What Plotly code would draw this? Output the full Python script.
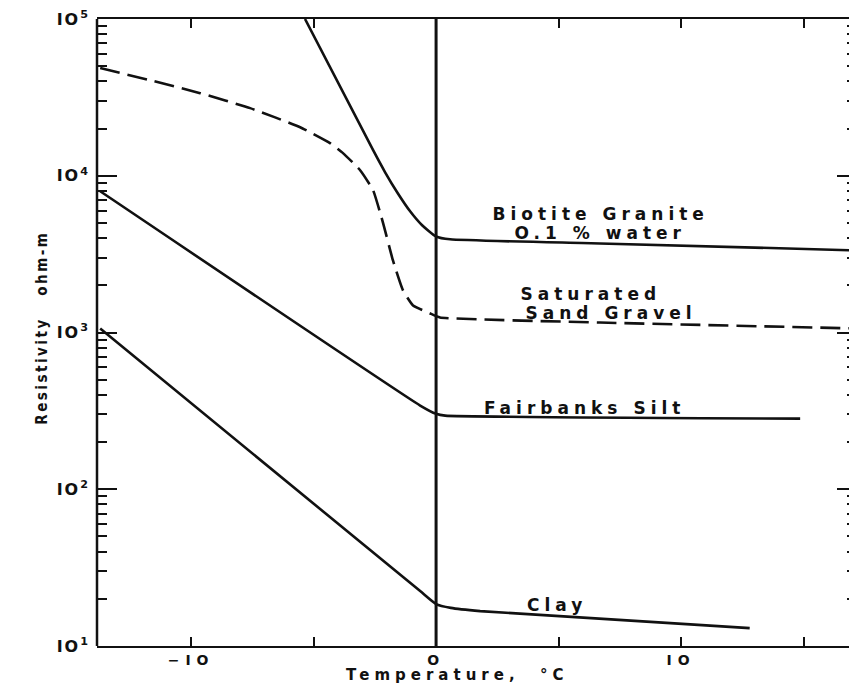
import plotly.graph_objects as go

# ---- data ----
granite_T = [-5.35, -2.57, -2.08, -1.59, -1.06, -0.57, 0.0, 0.57, 6.69, 17.18]
granite_R = [100000, 14550, 10520, 7850, 5930, 4830, 4100, 3930, 3700, 3340]

sand_T = [-13.71, -11.67, -9.63, -7.59, -5.55, -4.33, -3.80, -3.10, -2.57,
          -2.16, -1.76, -1.35, -0.94, -0.24, 0.16, 6.69, 17.18]
sand_R = [48650, 40700, 33650, 27000, 20400, 16140, 13940, 10850, 8080,
          4970, 2880, 1855, 1488, 1322, 1247, 1158, 1061]

silt_T = [-13.71, -0.65, 0.0, 0.37, 14.86]
silt_R = [7960, 342, 303, 295, 282]

clay_T = [-13.71, -0.65, 0.0, 0.6, 1.8, 12.8]
clay_R = [1061, 22.4, 18.5, 17.5, 16.7, 13.0]

freeze_T = [0, 0]
freeze_R = [10, 100000]

x_tickvals = [-10, -5, 0, 5, 10, 15]
x_ticktext = ["\u2212IO", "", "O", "", "IO", ""]
y_tickvals = [10, 100, 1000, 10000, 100000]
y_ticktext = ["IO<sup>1</sup>", "IO<sup>2</sup>", "IO<sup>3</sup>", "IO<sup>4</sup>", "IO<sup>5</sup>"]
y_minor = [m * 10 ** k for k in range(1, 5) for m in range(2, 10)]

labels = [
    ("Biotite Granite", 6.73, 3.754),
    ("O.1 % water", 6.73, 3.633),
    ("Saturated", 6.33, 3.243),
    ("Sand Gravel", 7.14, 3.125),
    ("Fairbanks Silt", 6.04, 2.521),
    ("Clay", 4.94, 1.262),
]

FONT = "DejaVu Sans"
INK = "#111111"

fig = go.Figure()
line_w = 2.6
fig.add_trace(go.Scatter(x=granite_T, y=granite_R, mode="lines",
                         line=dict(color=INK, width=line_w, shape="spline", smoothing=0.5)))
fig.add_trace(go.Scatter(x=sand_T, y=sand_R, mode="lines",
                         line=dict(color=INK, width=line_w, dash="20px,8px", shape="spline", smoothing=0.4)))
fig.add_trace(go.Scatter(x=silt_T, y=silt_R, mode="lines",
                         line=dict(color=INK, width=line_w, shape="spline", smoothing=0.4)))
fig.add_trace(go.Scatter(x=clay_T, y=clay_R, mode="lines",
                         line=dict(color=INK, width=line_w, shape="spline", smoothing=0.4)))
fig.add_trace(go.Scatter(x=freeze_T, y=freeze_R, mode="lines",
                         line=dict(color=INK, width=3)))

for text, tx, ly in labels:
    fig.add_annotation(x=tx, y=ly, xref="x", yref="y", text=text, showarrow=False,
                       font=dict(family=FONT, size=17, color=INK, weight="bold"),
                       align="center")

# axis titles
fig.add_annotation(x=(457 - 97) / 760, y=-29 / 627, xref="paper", yref="paper",
                   text="Temperature,  \u00b0C", showarrow=False, yanchor="middle",
                   font=dict(family=FONT, size=15, color=INK, weight="bold"))
fig.add_annotation(x=(42 - 97) / 760, y=(646 - 328) / 627, xref="paper", yref="paper",
                   text="Resistivity   ohm-m", showarrow=False, textangle=-90,
                   xanchor="center", yanchor="middle",
                   font=dict(family="DejaVu Sans Condensed, DejaVu Sans", size=15, color=INK, weight="bold"))

# page body has an 8px margin: size/margins chosen so the plot area lands where the reference has it
fig.update_layout(
    width=849, height=676,
    margin=dict(l=89, r=0, t=11, b=38, autoexpand=False),
    paper_bgcolor="white", plot_bgcolor="white",
    showlegend=False,
    xaxis=dict(range=[-13.84, 17.18], tickvals=x_tickvals, ticktext=x_ticktext,
               ticks="inside", ticklen=9, tickwidth=2, tickcolor=INK,
               showline=True, linecolor=INK, linewidth=2, mirror="allticks",
               showgrid=False, zeroline=False, ticklabeloverflow="allow",
               ticklabelstandoff=0,
               tickfont=dict(family=FONT, size=14, color=INK, weight="bold")),
    yaxis=dict(type="log", range=[1, 5], tickvals=y_tickvals, ticktext=y_ticktext,
               ticks="inside", ticklen=20, tickwidth=2, tickcolor=INK,
               showline=False, mirror="allticks",
               showgrid=False, zeroline=False, ticklabeloverflow="allow",
               ticklabelstandoff=6,
               minor=dict(tickvals=y_minor, ticks="inside", ticklen=10, tickwidth=2, tickcolor=INK),
               tickfont=dict(family=FONT, size=16, color=INK, weight="bold")),
)
fig.add_shape(type="line", xref="paper", yref="paper", x0=0, x1=0, y0=0, y1=1,
              line=dict(color=INK, width=2.5))

# wide lettering of the original drawing
post_js = """
var gd = document.getElementById('{plot_id}');
gd.querySelectorAll('.annotation-text').forEach(function(t){
  var s = t.textContent;
  if (s.indexOf('Resistivity') === 0) { t.style.letterSpacing = '2.5px'; }
  else { t.style.letterSpacing = '5px'; }
});
gd.querySelectorAll('.xtick text').forEach(function(t){ t.style.letterSpacing = '6px'; });
gd.querySelectorAll('.ytick text').forEach(function(t){ t.style.letterSpacing = '2px'; });
"""

fig.write_html("out.html", post_script=post_js)
